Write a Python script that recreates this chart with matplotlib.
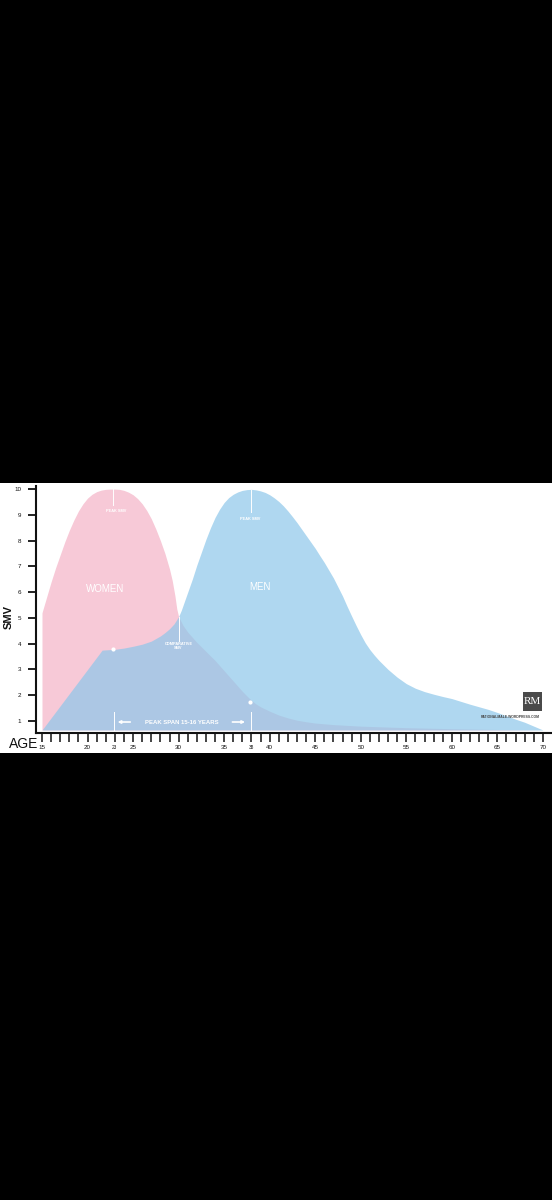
"""
SMV by age, women vs men
"""

import matplotlib.pyplot as plt
from matplotlib.patches import Rectangle

# Values
women_ages = [15, 15.5, 16, 16.5, 17, 17.5, 18, 18.5, 19, 19.5,
              20, 20.5, 21, 21.5, 22, 22.5, 23, 23.5, 24, 24.5,
              25, 25.5, 26, 26.5, 27, 27.5, 28, 28.5, 29, 29.3,
              29.6, 29.8, 30, 30.5, 31, 31.5, 32, 33, 34, 35,
              36, 37, 37.5, 38, 38.5, 39, 40, 41, 42, 43,
              44, 45, 47, 50, 55, 60, 65, 70]
women_smv = [5.2, 5.8, 6.4, 6.95, 7.45, 7.95, 8.4, 8.8, 9.15, 9.43,
             9.65, 9.8, 9.9, 9.96, 9.99, 10.0, 10.0, 9.99, 9.95, 9.88,
             9.78, 9.63, 9.43, 9.17, 8.85, 8.45, 8.0, 7.5, 6.9, 6.45,
             5.85, 5.35, 5.05, 4.7, 4.45, 4.25, 4.05, 3.7, 3.35, 2.95,
             2.55, 2.15, 1.97, 1.8, 1.66, 1.55, 1.38, 1.23, 1.12, 1.03,
             0.97, 0.92, 0.86, 0.8, 0.74, 0.7, 0.67, 0.65]

men_ages = [15, 21.6, 22, 23, 24, 25, 26, 27, 27.5, 28,
            28.5, 29, 29.5, 30, 30.3, 30.6, 31, 31.5, 32, 32.5,
            33, 33.5, 34, 34.5, 35, 35.5, 36, 36.5, 37, 37.5,
            38, 38.5, 39, 39.5, 40, 40.5, 41, 41.5, 42, 42.5,
            43, 43.5, 44, 44.5, 45, 45.5, 46, 46.5, 47, 47.5,
            48, 48.5, 49, 49.5, 50, 50.5, 51, 51.5, 52, 53,
            54, 55, 56, 57, 58, 59, 60, 61, 62, 63,
            64, 65, 66, 67, 68, 69, 70]
men_smv = [0.65, 3.75, 3.76, 3.78, 3.83, 3.9, 3.98, 4.1, 4.2, 4.3,
           4.43, 4.58, 4.77, 5.05, 5.3, 5.6, 6.0, 6.5, 7.05, 7.55,
           8.05, 8.5, 8.9, 9.22, 9.48, 9.67, 9.8, 9.89, 9.95, 9.98,
           9.99, 9.97, 9.93, 9.87, 9.78, 9.66, 9.52, 9.35, 9.15, 8.93,
           8.7, 8.45, 8.2, 7.95, 7.7, 7.42, 7.15, 6.85, 6.55, 6.2,
           5.85, 5.45, 5.07, 4.7, 4.35, 4.03, 3.77, 3.55, 3.35, 3.0,
           2.7, 2.45, 2.27, 2.14, 2.04, 1.95, 1.87, 1.76, 1.65, 1.55,
           1.45, 1.33, 1.2, 1.07, 0.95, 0.8, 0.65]

# peak ages and the other sex's value at that age
women_peak_age, men_peak_age = 23, 38
men_at_women_peak = 3.78
women_at_men_peak = 1.75
crossing_age, crossing_smv = 30, 5.05

baseline = 0.65
y_ticks = list(range(1, 11))
x_ticks = list(range(15, 71))
x_labels = {15: "15", 20: "20", 23: "23", 25: "25", 30: "30", 35: "35", 38: "38",
            40: "40", 45: "45", 50: "50", 55: "55", 60: "60", 65: "65", 70: "70"}

PINK = "#f7c9d7"
BLUE = "#8dc7ea"
FONT = "Liberation Sans"


def main():
    plt.rcParams["font.family"] = [FONT, "DejaVu Sans"]
    fig = plt.figure(figsize=(5.52, 12), dpi=100, facecolor="black")
    # white band the chart sits on
    fig.add_artist(Rectangle((0, 0.3725), 1, 0.225, transform=fig.transFigure,
                             facecolor="white", edgecolor="none", zorder=-5))
    ax = fig.add_axes([0.0652, 0.3892, 0.9348, 0.2058])
    ax.set_facecolor("none")

    ax.fill_between(women_ages, baseline, women_smv, color=PINK, lw=0, zorder=1)
    ax.fill_between(men_ages, baseline, men_smv, color=BLUE, alpha=0.7, lw=0, zorder=2)

    ax.set_xlim(14.34, 71.0)
    ax.set_ylim(0.535, 10.12)

    # axes styling
    for side in ["top", "right"]:
        ax.spines[side].set_visible(False)
    for side in ["left", "bottom"]:
        ax.spines[side].set_linewidth(1.5)
        ax.spines[side].set_color("#111111")
    ax.set_yticks(y_ticks)
    ax.set_yticklabels([str(v) for v in y_ticks], fontsize=4.5, color="#111111")
    ax.tick_params(axis="y", length=5.8, width=1.3, pad=5, color="#111111")
    ax.set_xticks(x_ticks)
    ax.set_xticklabels([x_labels.get(v, "") for v in x_ticks], fontsize=4.5, color="#111111")
    ax.tick_params(axis="x", length=6.5, width=1.1, pad=2.5, color="#111111")
    for lbl in ax.get_xticklabels():
        if lbl.get_text() in ("23", "38"):
            lbl.set_fontsize(3.4)

    fig.text(24 / 552, 0.38, "AGE", fontsize=10, ha="center", va="center", color="#111111")
    fig.text(9 / 552, 0.486, "SMV", fontsize=8, fontweight="bold", rotation=90,
             ha="center", va="center", color="#111111")

    # labels inside the curves
    ax.text(21.9, 6.12, "WOMEN", color="white", fontsize=7, ha="center", va="center", zorder=5)
    ax.text(38.9, 6.2, "MEN", color="white", fontsize=7, ha="center", va="center", zorder=5)

    ax.plot([women_peak_age - 0.2] * 2, [10.0, 9.4], color="white", lw=0.7, zorder=5)
    ax.text(women_peak_age + 0.1, 9.15, "PEAK SMV", color="white", fontsize=2.8,
            fontweight="bold", ha="center", va="center", zorder=5)
    ax.plot([men_peak_age - 0.1] * 2, [9.95, 9.1], color="white", lw=0.7, zorder=5)
    ax.text(men_peak_age - 0.1, 8.83, "PEAK SMV", color="white", fontsize=2.8,
            fontweight="bold", ha="center", va="center", zorder=5)

    ax.plot([crossing_age] * 2, [crossing_smv, 4.1], color="white", lw=0.7, zorder=5)
    ax.text(crossing_age, 3.92, "COMPARATIVE\nSMV", color="white", fontsize=2.8,
            fontweight="bold", ha="center", va="center", linespacing=1.1, zorder=5)

    ax.plot([women_peak_age - 0.2, men_peak_age - 0.2],
            [men_at_women_peak, women_at_men_peak],
            "o", color="white", ms=3, mec="none", zorder=6)

    # peak span marker
    for age in (women_peak_age - 0.1, men_peak_age):
        ax.plot([age, age], [1.35, baseline], color="white", lw=0.7, zorder=5)
    ax.annotate("", xy=(23.0, 0.96), xytext=(25.0, 0.96), zorder=5,
                arrowprops=dict(arrowstyle="-|>", color="white", lw=1.2, mutation_scale=4))
    ax.annotate("", xy=(37.6, 0.96), xytext=(35.6, 0.96), zorder=5,
                arrowprops=dict(arrowstyle="-|>", color="white", lw=1.2, mutation_scale=4))
    ax.text(30.3, 0.96, "PEAK SPAN 15-16 YEARS", color="white", fontsize=4.3,
            fontweight="bold", ha="center", va="center", zorder=5)

    # RM logo
    ax.add_patch(Rectangle((67.8, 1.39), 2.1, 0.74, facecolor="#4a4a4a", edgecolor="none", zorder=5))
    ax.text(68.85, 1.74, "RM", color="white", fontsize=8, family="Liberation Serif",
            ha="center", va="center", zorder=6)
    ax.text(66.4, 1.15, "RATIONALMALE.WORDPRESS.COM", color="#444444", fontsize=2.4,
            fontweight="bold", ha="center", va="center", zorder=6)

    fig.savefig("out.png", dpi=100, facecolor="black")


if __name__ == "__main__":
    main()
